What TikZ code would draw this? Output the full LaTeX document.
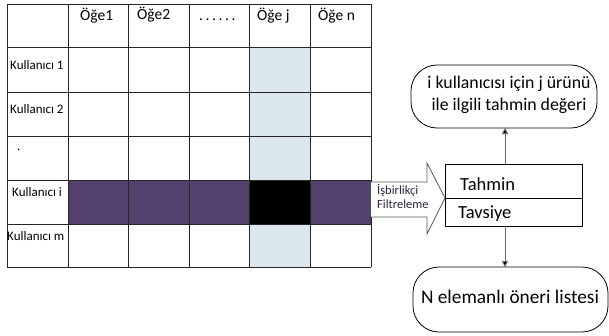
\documentclass[tikz,border=0pt]{standalone}
\usepackage{fontspec}
\setmainfont{Carlito}
\usetikzlibrary{arrows.meta}
\definecolor{rowpurple}{HTML}{52416C}
\definecolor{colblue}{HTML}{DBE7EE}
\definecolor{arrowtxt}{HTML}{2E2440}
\begin{document}
\begin{tikzpicture}[x=1pt,y=-1pt,
  hdr/.style={anchor=base west,font=\fontsize{15.5}{15.5}\selectfont,inner sep=0pt},
  rowlbl/.style={anchor=base west,font=\fontsize{13}{13}\selectfont,inner sep=0pt},
  gridline/.style={line width=0.9pt,black!85},
  conn/.style={line width=0.9pt,gray!80!black,-{Triangle[width=6pt,length=6pt,fill=black]}},
  pill/.style={draw,line width=0.8pt,rounded corners=26pt},
  big/.style={anchor=base west,inner sep=0pt,font=\fontsize{18.5}{18.5}\selectfont}
]
\useasboundingbox (0,0) rectangle (609,335);
% fills
\fill[colblue] (249,47) rectangle (310,267);
\fill[rowpurple] (68,180) rectangle (371,224);
\fill[black] (249,180) rectangle (310,224);
% grid lines
\foreach \x in {7,68,128,189,249,310,371} \draw[gridline] (\x,4) -- (\x,267);
\foreach \y in {4,47,92,136,180,224,267} \draw[gridline] (7,\y) -- (371,\y);
% headers
\node[hdr] (h1) at (80,20) {Öğe1};
\node[hdr] (h2) at (137,19) {Öğe2};
\node[hdr] (h3) at (199,20) {.\kern2.6pt.\kern2.6pt.\kern2.6pt.\kern2.6pt.\kern2.6pt.};
\node[hdr] (h4) at (257,20) {Öğe j};
\node[hdr] (h5) at (318,20) {Öğe n};
% row labels
\node[rowlbl] (r1) at (10,69) {Kullanıcı 1};
\node[rowlbl] (r2) at (10,113) {Kullanıcı 2};
\node[rowlbl] (r3) at (17,150) {.};
\node[rowlbl] (r4) at (12,196) {Kullanıcı i};
\node[rowlbl] (r5) at (7,240) {Kullanıcı m};
% block arrow
\draw[fill=white,draw=gray!70!black,line width=0.8pt] (371,182) -- (427,182) -- (427,163) -- (445,198) -- (427,234) -- (427,217) -- (371,217);
\node[anchor=base west,inner sep=0pt,text=arrowtxt,font=\fontsize{12.5}{12.5}\selectfont] (cf1) at (377,194) {İşbirlikçi};
\node[anchor=base west,inner sep=0pt,text=arrowtxt,font=\fontsize{12.5}{12.5}\selectfont] (cf2) at (377,208) {Filtreleme};
% Tahmin / Tavsiye box
\draw[line width=0.8pt] (445,164) rectangle (582,226);
\draw[line width=0.8pt] (445,198) -- (582,198);
\coordinate (boxtop) at (505,164);
\coordinate (boxbot) at (505,226);
\node[big] (tah) at (460,190) {Tahmin};
\node[big] (tav) at (458,218) {Tavsiye};
% top pill
\draw[pill] (411,65) rectangle (597,128);
\node[anchor=base,inner sep=0pt,font=\fontsize{17.8}{17.8}\selectfont] (pred1) at (509,88) {i kullanıcısı için j ürünü};
\node[anchor=base,inner sep=0pt,font=\fontsize{17.8}{17.8}\selectfont] (pred2) at (509,110) {ile ilgili tahmin değeri};
\coordinate (predbot) at (505,128);
% bottom pill
\draw[pill] (413,267) rectangle (608,332);
\node[anchor=base,inner sep=0pt,font=\fontsize{19.3}{19.3}\selectfont] (list) at (510,303) {N elemanlı öneri listesi};
\coordinate (listtop) at (505,267);
% connectors
\draw[conn] (boxtop) -- (predbot);
\draw[conn] (boxbot) -- (listtop);
\end{tikzpicture}
\end{document}
